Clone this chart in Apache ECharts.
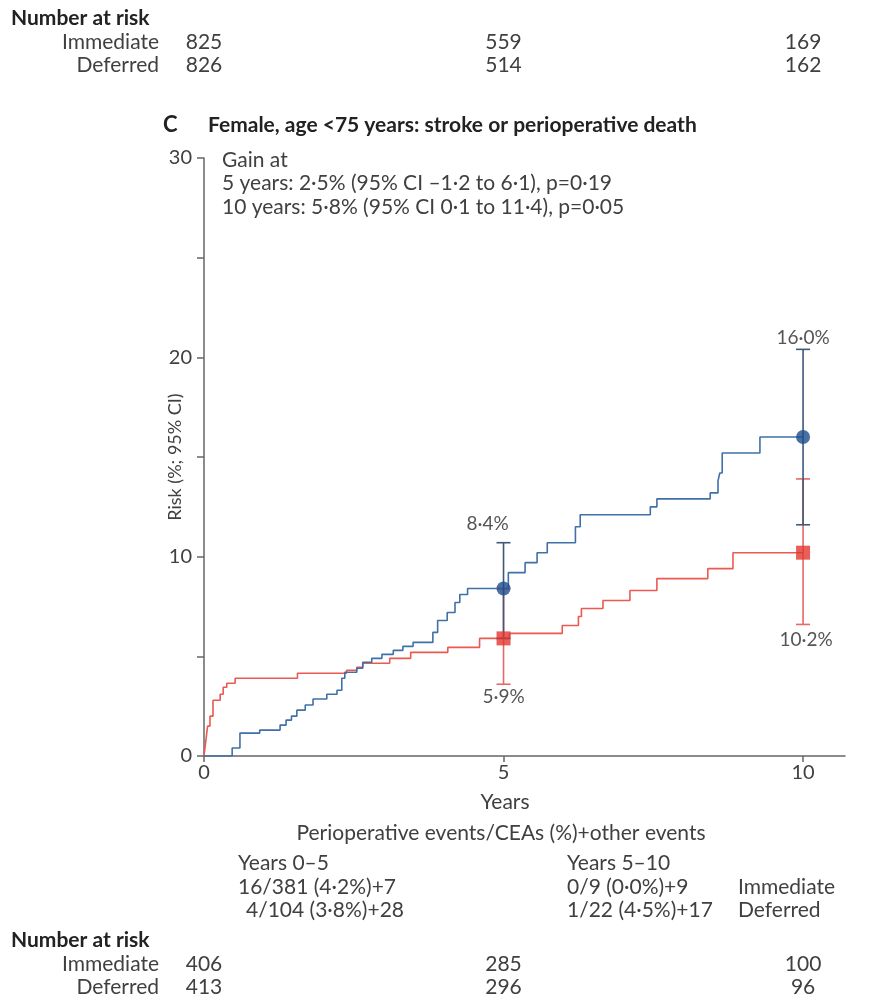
<!DOCTYPE html>
<html><head><meta charset="utf-8">
<script src="https://cdn.jsdelivr.net/npm/echarts@6/dist/echarts.min.js"></script>
<style>html,body{margin:0;padding:0;background:#fff}#c{width:873px;height:995px}</style>
</head><body><div id="c"></div>
<script>
// ---- data ----
const immT = [0, 0.47, 0.6, 0.93, 1.27, 1.37, 1.46, 1.55, 1.69, 1.82, 2.05, 2.22, 2.3, 2.35, 2.55, 2.65, 2.8, 2.97, 3.16, 3.32, 3.49, 3.82, 3.9, 4.06, 4.19, 4.27, 4.4, 5.08, 5.36, 5.56, 5.73, 6.2, 6.28, 7.45, 7.56, 8.45, 8.58, 8.61, 8.65, 9.28, 10];
const immV = [0, 0.4, 1.15, 1.3, 1.55, 1.8, 2.0, 2.3, 2.56, 2.86, 3.1, 3.3, 3.9, 4.2, 4.4, 4.7, 4.9, 5.1, 5.3, 5.5, 5.7, 6.2, 6.8, 7.2, 7.7, 8.1, 8.4, 9.2, 9.7, 10.2, 10.7, 11.5, 12.1, 12.5, 12.9, 13.2, 13.8, 14.2, 15.2, 16.0, 16.0];
const defT = [0, 0.02, 0.04, 0.06, 0.1, 0.15, 0.27, 0.32, 0.38, 0.52, 1.56, 2.38, 2.55, 2.65, 3.1, 3.45, 4.07, 4.6, 5.1, 5.98, 6.25, 6.3, 6.66, 7.11, 7.56, 8.41, 8.83, 10];
const defV = [0, 0.5, 1.0, 1.5, 2.0, 2.8, 3.1, 3.45, 3.65, 3.9, 4.15, 4.3, 4.45, 4.65, 4.9, 5.2, 5.45, 5.9, 6.15, 6.55, 7.0, 7.4, 7.8, 8.3, 8.9, 9.4, 10.2, 10.2];

const ciYears = [5, 10];
const immPoint = [8.4, 16.0];
const immLow = [5.9, 11.6];
const immHigh = [10.7, 20.4];
const defPoint = [5.9, 10.2];
const defLow = [3.6, 6.6];
const defHigh = [8.4, 13.9];
const immLabels = ['8·4%', '16·0%'];
const defLabels = ['5·9%', '10·2%'];

const xTickValues = [0, 5, 10];
const yLabelValues = [0, 10, 20, 30];

const riskYears = [0, 5, 10];
const groupNames = ['Immediate', 'Deferred'];
const topImm = [825, 559, 169];
const topDef = [826, 514, 162];
const botImm = [406, 285, 100];
const botDef = [413, 296, 96];

const panelLetter = 'C';
const titleText = 'Female, age <75 years: stroke or perioperative death';
const gainLines = ['Gain at', '5 years: 2·5% (95% CI –1·2 to 6·1), p=0·19', '10 years: 5·8% (95% CI 0·1 to 11·4), p=0·05'];
const xName = 'Years';
const yName = 'Risk (%; 95% CI)';
const eventsTitle = 'Perioperative events/CEAs (%)+other events';
const periodHeaders = ['Years 0–5', 'Years 5–10'];
const immEvents = ['16/381 (4·2%)+7', '0/9 (0·0%)+9'];
const defEvents = ['4/104 (3·8%)+28', '1/22 (4·5%)+17'];
const riskTitle = 'Number at risk';

// ---- styles ----
const FONT = 'Lato, "Open Sans", sans-serif';
const TXT = '#404040';
const BLUE_LINE = '#3f70a8';
const BLUE_DOT = '#1c4c8c';
const BLUE_BAR = '#3e5878';
const RED_LINE = '#ea5a52';
const RED_DOT = '#e2362e';
const RED_BAR = '#e46868';

const chart = echarts.init(document.getElementById('c'), null, {renderer: 'canvas'});

function ciSeries(name, low, high, labels, color, below) {
  return {
    type: 'custom', name: name, z: 3,
    data: ciYears.map((t, i) => [t, low[i], high[i], i]),
    encode: {x: 0, y: [1, 2]},
    renderItem: function (params, api) {
      const x = api.value(0);
      const lo = api.coord([x, api.value(1)]);
      const hi = api.coord([x, api.value(2)]);
      const idx = api.value(3);
      const w = 7;
      const st = {stroke: color, lineWidth: 1.6};
      const ch = [
        {type: 'line', shape: {x1: lo[0], y1: lo[1], x2: hi[0], y2: hi[1]}, style: st},
        {type: 'line', shape: {x1: lo[0] - w, y1: lo[1], x2: lo[0] + w, y2: lo[1]}, style: st},
        {type: 'line', shape: {x1: hi[0] - w, y1: hi[1], x2: hi[0] + w, y2: hi[1]}, style: st}
      ];
      let tx, ty;
      if (below) {
        tx = lo[0] + (idx === 0 ? 0 : 3);
        ty = lo[1] + (idx === 0 ? 13 : 15);
      } else {
        tx = hi[0] + (idx === 0 ? -16 : 0);
        ty = hi[1] - (idx === 0 ? 19 : 11);
      }
      ch.push({
        type: 'text', x: tx, y: ty,
        style: {text: labels[idx], fill: '#555', fontSize: 19, fontFamily: FONT, align: 'center', verticalAlign: 'middle'}
      });
      return {type: 'group', children: ch};
    }
  };
}

const option = {
  animation: false,
  backgroundColor: '#fff',
  grid: {left: 204, right: 28, top: 158, bottom: 239},
  xAxis: {
    type: 'value', min: 0, max: 10.7, interval: 5,
    axisLine: {lineStyle: {color: '#666', width: 1.5}},
    axisTick: {show: true, length: 6, customValues: xTickValues, lineStyle: {color: '#666', width: 1.5}},
    axisLabel: {customValues: xTickValues, color: TXT, fontSize: 20, fontFamily: FONT, margin: 7},
    splitLine: {show: false}
  },
  yAxis: {
    type: 'value', min: 0, max: 30, interval: 5,
    name: yName, nameLocation: 'middle', nameGap: 20, nameRotate: 90, nameMoveOverlap: false,
    nameTextStyle: {color: TXT, fontSize: 18, fontFamily: FONT},
    axisLine: {show: true, lineStyle: {color: '#666', width: 1.5}},
    axisTick: {show: true, length: 7, lineStyle: {color: '#666', width: 1.5}},
    axisLabel: {customValues: yLabelValues, color: TXT, fontSize: 20, fontFamily: FONT, margin: 12},
    splitLine: {show: false}
  },
  series: [
    {type: 'line', name: 'Deferred', step: 'end', showSymbol: false, z: 2,
     data: defT.map((t, i) => [t, defV[i]]), lineStyle: {color: RED_LINE, width: 1.6}},
    {type: 'line', name: 'Immediate', step: 'end', showSymbol: false, z: 2,
     data: immT.map((t, i) => [t, immV[i]]), lineStyle: {color: BLUE_LINE, width: 1.6}},
    ciSeries('Deferred CI', defLow, defHigh, defLabels, RED_BAR, true),
    ciSeries('Immediate CI', immLow, immHigh, immLabels, BLUE_BAR, false),
    {type: 'scatter', name: 'Deferred point', z: 5, symbol: 'rect', symbolSize: 14,
     itemStyle: {color: RED_DOT}, data: ciYears.map((t, i) => [t, defPoint[i]])},
    {type: 'scatter', name: 'Immediate point', z: 5, symbol: 'circle', symbolSize: 14,
     itemStyle: {color: BLUE_DOT}, data: ciYears.map((t, i) => [t, immPoint[i]])}
  ]
};
chart.setOption(option);

// ---- text blocks ----
const g = [];
function T(x, y, text, opt) {
  g.push({type: 'text', x: x, y: y, silent: true,
    style: Object.assign({text: text, fill: TXT, fontSize: 21, fontFamily: FONT, align: 'left', verticalAlign: 'middle'}, opt || {})});
}
const px = riskYears.map(t => chart.convertToPixel({xAxisIndex: 0}, t));

function riskTable(y0, imm, def) {
  T(11, y0, riskTitle, {fontWeight: 'bold', fill: '#222'});
  T(159, y0 + 24, groupNames[0], {align: 'right'});
  T(159, y0 + 47, groupNames[1], {align: 'right'});
  imm.forEach((v, i) => T(px[i], y0 + 24, String(v), {align: 'center'}));
  def.forEach((v, i) => T(px[i], y0 + 47, String(v), {align: 'center'}));
}
riskTable(18, topImm, topDef);

T(163, 125, panelLetter, {fontWeight: 'bold', fill: '#222', fontSize: 22});
T(208, 125, titleText, {fontWeight: 'bold', fill: '#222'});
gainLines.forEach((s, i) => T(222, 160 + i * 23.5, s));

T(505, 802, xName, {align: 'center'});
T(501, 833, eventsTitle, {align: 'center'});
const colX = [238, 567];
periodHeaders.forEach((s, i) => T(colX[i], 863, s));
immEvents.forEach((s, i) => T(colX[i], 887, s));
defEvents.forEach((s, i) => T(colX[i] + (i === 0 ? 8 : 0), 910, s));
T(738, 887, groupNames[0]);
T(738, 910, groupNames[1]);

riskTable(940, botImm, botDef);

chart.setOption({graphic: g});
</script>
</body></html>
